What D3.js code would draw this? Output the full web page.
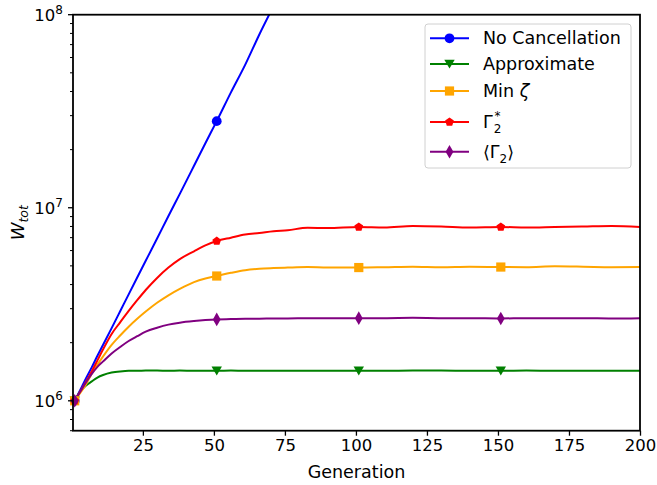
<!DOCTYPE html>
<html>
<head>
<meta charset="utf-8">
<script src="https://cdn.jsdelivr.net/npm/d3@7"></script>
<style>
  body { margin: 0; background: #fff; }
  svg { font-family: "DejaVu Sans", sans-serif; }
</style>
</head>
<body>
<div id="chart"></div>
<script>
// generations
const generations = [1, 3, 5, 7, 9, 11, 14, 17, 20, 23, 26, 30, 34, 38, 43, 47, 51, 56, 61, 66, 71, 76,
  83, 90, 101, 110, 120, 130, 140, 151, 160, 170, 180, 190, 200];

const noCancellation = [1.00e6, 1.14e6, 1.31e6, 1.49e6, 1.71e6, 1.95e6, 2.38e6, 2.91e6, 3.56e6, 4.35e6, 5.31e6,
  6.93e6, 9.06e6, 1.18e7, 1.65e7, 2.16e7, 2.81e7, 3.96e7, 5.50e7, 7.90e7, 1.11e8, 1.55e8,
  null, null, null, null, null, null, null, null, null, null, null, null, null];
const approximate = [1.00e6, 1.12e6, 1.20e6, 1.26e6, 1.32e6, 1.36e6, 1.40e6, 1.42e6, 1.43e6, 1.43e6, 1.435e6,
  1.435e6, 1.43e6, 1.435e6, 1.43e6, 1.43e6, 1.43e6, 1.435e6, 1.43e6, 1.43e6, 1.43e6, 1.43e6,
  1.43e6, 1.43e6, 1.43e6, 1.43e6, 1.435e6, 1.435e6, 1.43e6, 1.43e6, 1.435e6, 1.43e6, 1.43e6, 1.43e6, 1.43e6];
const minZeta = [1.00e6, 1.10e6, 1.22e6, 1.38e6, 1.54e6, 1.70e6, 1.95e6, 2.18e6, 2.42e6, 2.66e6, 2.90e6,
  3.22e6, 3.52e6, 3.80e6, 4.12e6, 4.30e6, 4.43e6, 4.60e6, 4.75e6, 4.83e6, 4.87e6, 4.90e6,
  4.93e6, 4.90e6, 4.90e6, 4.92e6, 4.95e6, 4.92e6, 4.95e6, 4.93e6, 4.92e6, 4.97e6, 4.95e6, 4.92e6, 4.93e6];
const gammaStar = [1.00e6, 1.12e6, 1.26e6, 1.42e6, 1.62e6, 1.85e6, 2.22e6, 2.55e6, 2.92e6, 3.32e6, 3.75e6,
  4.33e6, 4.90e6, 5.42e6, 5.95e6, 6.38e6, 6.72e6, 7.00e6, 7.27e6, 7.40e6, 7.55e6, 7.65e6,
  7.87e6, 7.85e6, 7.95e6, 7.90e6, 8.05e6, 8.00e6, 7.90e6, 7.95e6, 7.90e6, 7.95e6, 8.00e6, 8.05e6, 7.95e6];
const gammaMean = [1.00e6, 1.12e6, 1.25e6, 1.38e6, 1.50e6, 1.60e6, 1.76e6, 1.90e6, 2.04e6, 2.16e6, 2.28e6,
  2.39e6, 2.48e6, 2.54e6, 2.59e6, 2.62e6, 2.64e6, 2.65e6, 2.66e6, 2.66e6, 2.67e6, 2.67e6,
  2.68e6, 2.68e6, 2.68e6, 2.68e6, 2.69e6, 2.68e6, 2.68e6, 2.67e6, 2.68e6, 2.68e6, 2.68e6, 2.67e6, 2.68e6];

const markerGens = [1, 51, 101, 151];
const xTicks = [25, 50, 75, 100, 125, 150, 175, 200];
const yMajor = [1e6, 1e7, 1e8];

const series = [
  { name: 'noCancel', values: noCancellation, color: 'blue', marker: 'circle' },
  { name: 'approx', values: approximate, color: 'green', marker: 'triangleDown' },
  { name: 'minZeta', values: minZeta, color: 'orange', marker: 'square' },
  { name: 'gammaStar', values: gammaStar, color: 'red', marker: 'pentagon' },
  { name: 'gammaMean', values: gammaMean, color: 'purple', marker: 'diamond' }
];

const width = 657, height = 485;
const margin = { top: 14.7, right: 17, bottom: 54.3, left: 73 };
const innerW = width - margin.left - margin.right;
const innerH = height - margin.top - margin.bottom;

const svg = d3.select('#chart').append('svg')
  .attr('width', width).attr('height', height);

const x = d3.scaleLinear().domain([0.4, 200]).range([0, innerW]);
const y = d3.scaleLog().domain([7.0e5, 1e8]).range([innerH, 0]);

const g = svg.append('g').attr('transform', `translate(${margin.left},${margin.top})`);

g.append('clipPath').attr('id', 'clip')
  .append('rect').attr('x', 0).attr('y', 0).attr('width', innerW).attr('height', innerH);

// marker shapes
function markerPath(type) {
  switch (type) {
    case 'circle': return d3.symbol(d3.symbolCircle, 75)();
    case 'square': return 'M-4.6,-4.6H4.6V4.6H-4.6Z';
    case 'triangleDown': return 'M-5.2,-4.2L5.2,-4.2L0,4.6Z';
    case 'pentagon': {
      const r = 4.6;
      const pts = d3.range(5).map(i => {
        const a = -Math.PI / 2 + i * 2 * Math.PI / 5;
        return [r * Math.cos(a), r * Math.sin(a)];
      });
      return 'M' + pts.join('L') + 'Z';
    }
    case 'diamond': return 'M0,-6.8L3.9,0L0,6.8L-3.9,0Z';
  }
}

const line = d3.line()
  .defined(d => d[1] != null)
  .curve(d3.curveMonotoneX)
  .x(d => x(d[0]))
  .y(d => y(d[1]));

const plot = g.append('g').attr('clip-path', 'url(#clip)');

series.forEach(s => {
  const pts = generations.map((gen, i) => [gen, s.values[i]]);
  plot.append('path')
    .datum(pts)
    .attr('fill', 'none')
    .attr('stroke', s.color)
    .attr('stroke-width', 2)
    .attr('stroke-linejoin', 'round')
    .attr('d', line);
});

// markers every 50 generations, drawn over all lines
series.forEach(s => {
  const pts = markerGens.map(gen => [gen, s.values[generations.indexOf(gen)]])
    .filter(d => d[1] != null && d[1] <= 1e8);
  g.selectAll(null).data(pts).enter().append('path')
    .attr('transform', d => `translate(${x(d[0])},${y(d[1])})`)
    .attr('d', markerPath(s.marker))
    .attr('fill', s.color);
});

// x axis
const xAxis = g.append('g').attr('transform', `translate(0,${innerH})`)
  .call(d3.axisBottom(x).tickValues(xTicks).tickSize(5).tickPadding(4).tickFormat(d3.format('d')));
xAxis.select('.domain').remove();
xAxis.selectAll('.tick line').attr('stroke', '#000').attr('stroke-width', 1.3);
xAxis.selectAll('.tick text').attr('font-size', 16.5).attr('fill', '#000').attr('font-family', 'DejaVu Sans');

// y axis: major ticks with 10^n labels, minor ticks in between
const yMinor = [];
[5, 6, 7].forEach(p => d3.range(2, 10).forEach(m => {
  const v = m * Math.pow(10, p);
  if (v >= 7e5 && v < 1e8) yMinor.push(v);
}));

const yAxis = g.append('g');
yAxis.selectAll('.minor').data(yMinor).enter().append('line')
  .attr('x1', -3).attr('x2', 0)
  .attr('y1', d => y(d)).attr('y2', d => y(d))
  .attr('stroke', '#000').attr('stroke-width', 1);
yAxis.selectAll('.major').data(yMajor).enter().append('line')
  .attr('x1', -5).attr('x2', 0)
  .attr('y1', d => y(d)).attr('y2', d => y(d))
  .attr('stroke', '#000').attr('stroke-width', 1.3);
const yLabels = yAxis.selectAll('.lab').data(yMajor).enter().append('text')
  .attr('x', -10).attr('y', d => y(d) + 6)
  .attr('text-anchor', 'end')
  .attr('font-size', 16.5);
yLabels.append('tspan').text('10');
yLabels.append('tspan').attr('dy', -7).attr('font-size', 12)
  .text(d => Math.round(Math.log10(d)));

// frame
g.append('rect').attr('width', innerW).attr('height', innerH)
  .attr('fill', 'none').attr('stroke', '#000').attr('stroke-width', 1.8);

// axis titles
svg.append('text')
  .attr('x', margin.left + innerW / 2).attr('y', 478)
  .attr('text-anchor', 'middle').attr('font-size', 17.5)
  .text('Generation');

const yTitle = svg.append('text')
  .attr('transform', `translate(24,${margin.top + innerH / 2}) rotate(-90)`)
  .attr('text-anchor', 'middle').attr('font-size', 18);
yTitle.append('tspan').attr('font-style', 'italic').text('W');
yTitle.append('tspan').attr('font-style', 'italic').attr('font-size', 12.5).attr('dy', 4).text('tot');

// legend
const legend = svg.append('g').attr('transform', 'translate(425,24)');
legend.append('rect')
  .attr('width', 206).attr('height', 144).attr('rx', 3)
  .attr('fill', '#fff').attr('fill-opacity', 0.8)
  .attr('stroke', '#d0d0d0').attr('stroke-width', 1);

const legendRows = [14.3, 40, 67, 98, 127.7];
series.forEach((s, i) => {
  const row = legend.append('g').attr('transform', `translate(0,${legendRows[i]})`);
  row.append('line').attr('x1', 5).attr('x2', 44)
    .attr('stroke', s.color).attr('stroke-width', 2);
  row.append('path').attr('transform', 'translate(24.5,0)')
    .attr('d', markerPath(s.marker)).attr('fill', s.color);
  const t = row.append('text').attr('x', 58).attr('y', 6).attr('font-size', 17.5);
  if (i === 0) t.text('No Cancellation');
  else if (i === 1) t.text('Approximate');
  else if (i === 2) {
    t.append('tspan').text('Min ');
    t.append('tspan').attr('font-style', 'italic').text('ζ');
  } else if (i === 3) {
    t.append('tspan').text('Γ');
    t.append('tspan').attr('font-size', 12).attr('dx', 1).attr('dy', 5).text('2');
    t.append('tspan').attr('font-size', 12).attr('dx', -7).attr('dy', -13).text('*');
  } else {
    t.append('tspan').text('⟨Γ');
    t.append('tspan').attr('font-size', 12).attr('dy', 5).text('2');
    t.append('tspan').attr('dy', -5).text('⟩');
  }
});
</script>
</body>
</html>
